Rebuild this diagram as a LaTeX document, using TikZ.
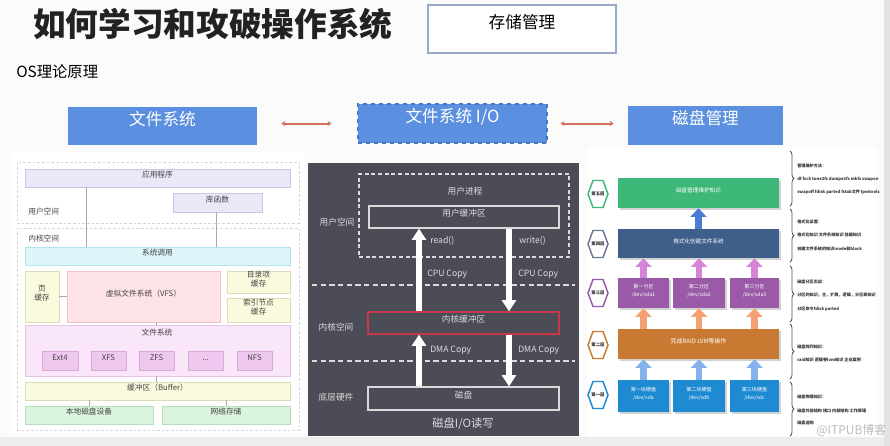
\documentclass[tikz,border=0pt]{standalone}
\usepackage{fontspec}
\setmainfont{Noto Sans CJK SC}
\usetikzlibrary{fit,arrows.meta,decorations.pathreplacing,shadows}
\definecolor{pagebg}{HTML}{FBFBFB}
\definecolor{edgegray}{HTML}{E3E3E3}
\definecolor{bottomgray}{HTML}{EDEDED}
\definecolor{titlecol}{HTML}{222222}
\definecolor{storeborder}{HTML}{98A8C8}
\definecolor{bluebtn}{HTML}{5B8FDF}
\definecolor{bluebtnb}{HTML}{4676C4}
\definecolor{redline}{HTML}{D6705E}
\definecolor{lptext}{HTML}{444444}
\definecolor{dashgray}{HTML}{D6D6D6}
\definecolor{lavF}{HTML}{E8E8F8}
\definecolor{lavB}{HTML}{C8C8E6}
\definecolor{cyanF}{HTML}{DDF6FA}
\definecolor{cyanB}{HTML}{B4E2EA}
\definecolor{yelF}{HTML}{FAFADF}
\definecolor{yelB}{HTML}{DCDCB6}
\definecolor{pinkF}{HTML}{FDE2E8}
\definecolor{pinkB}{HTML}{F0C2CC}
\definecolor{mauveF}{HTML}{F9E6F9}
\definecolor{mauveB}{HTML}{E6C6E6}
\definecolor{fsF}{HTML}{EEC8EE}
\definecolor{fsB}{HTML}{D8AAD8}
\definecolor{greenF}{HTML}{DAF4DE}
\definecolor{greenB}{HTML}{B6DEBE}
\definecolor{linkgray}{HTML}{A8A8A8}
\definecolor{mdark}{HTML}{4B4C56}
\definecolor{mtext}{HTML}{DCDCDC}
\definecolor{kred}{HTML}{C83848}
\definecolor{lv5}{HTML}{3DB878}
\definecolor{lv4}{HTML}{3E5F8A}
\definecolor{lv4h}{HTML}{6A7894}
\definecolor{lv3}{HTML}{9A5AA8}
\definecolor{lv2}{HTML}{C97A32}
\definecolor{lv1}{HTML}{1E8AD2}
\definecolor{arrblue}{HTML}{4A7CD4}
\definecolor{arrpink}{HTML}{D684D6}
\definecolor{arrorange}{HTML}{F2A074}
\definecolor{arrlblue}{HTML}{84B2EA}
\definecolor{bracecol}{HTML}{555555}
\definecolor{notecol}{HTML}{333333}
\definecolor{wmark}{HTML}{BDBDBD}
\begin{document}
\begin{tikzpicture}[x=0.75pt,y=-0.75pt,
  lpbox/.style={draw, inner sep=0pt, outer sep=0pt, align=center, text=lptext, line width=0.45pt, font=\fontsize{5.8}{7}\selectfont},
  lplabel/.style={text=lptext, font=\fontsize{5.8}{7}\selectfont, inner sep=0pt},
  lplink/.style={draw=linkgray, line width=0.5pt},
  dashreg/.style={draw=dashgray, dash pattern=on 2pt off 1.5pt, line width=0.5pt, inner sep=0pt},
  bluebox/.style={fill=bluebtn, inner sep=0pt, text=white, font=\fontsize{12.5}{14}\selectfont},
  redlink/.style={draw=redline, line width=1.5pt, {Stealth[length=3pt,width=4pt]}-{Stealth[length=3pt,width=4pt]}},
  mlabel/.style={text=mtext, font=\fontsize{6.5}{8}\selectfont, inner sep=0pt},
  mbox/.style={draw=white!85!black, line width=0.9pt, inner sep=0pt, text=mtext, font=\fontsize{6.5}{8}\selectfont},
  bigarrow/.style={draw=white, line width=3.8pt, -{Triangle[width=10.5pt,length=8.5pt]}},
  mdash/.style={draw=mtext, dash pattern=on 4pt off 2.5pt, line width=0.9pt},
  lvbox/.style={fill=#1, inner sep=0pt, text=white, align=center, font=\fontsize{4.2}{6}\selectfont, drop shadow={shadow xshift=1.2pt, shadow yshift=-1.2pt, opacity=0.35}},
  fat/.style={draw=#1, line width=5pt, -{Triangle[width=12pt,length=6.5pt]}},
  hexline/.style={draw=#1, line width=1.1pt, line join=miter},
  hextext/.style={text=notecol, font=\fontsize{3.3}{4}\selectfont\bfseries, inner sep=0pt},
  bracestyle/.style={draw=bracecol, line width=0.6pt, decorate, decoration={brace, amplitude=3pt}},
  note/.style={anchor=west, text=notecol, inner sep=0pt, font=\fontsize{3.1}{4}\selectfont\bfseries},
]
\fill[pagebg] (0,0) rectangle (890,446);
\fill[bottomgray] (0,437) rectangle (890,446);
\fill[edgegray] (884,0) rectangle (890,446);
\useasboundingbox (0,0) rectangle (890,446);

% header
\node[anchor=west, text=titlecol, font=\fontsize{24.5}{27}\selectfont\bfseries, inner sep=0pt] (title) at (33,24) {如何学习和攻破操作系统};
\node[draw=storeborder, line width=0.9pt, fill=white, inner sep=0pt, fit={(428,5)(616,53)}, font=\fontsize{12.5}{14}\selectfont] (store) {存储管理};
\node[anchor=west, inner sep=0pt, font=\fontsize{11.5}{13}\selectfont] (os) at (16,72) {OS理论原理};

\node[bluebox, fit={(68,107)(257,145)}] (fs) {文件系统};
\node[bluebox, draw=bluebtnb, dashed, line width=0.8pt, fit={(358,104)(547,143)}] (fsio) {文件系统 I/O};
\node[bluebox, fit={(628,106)(783,145)}] (dm) {磁盘管理};
\draw[redlink, shorten <=18pt, shorten >=19.5pt] (fs.east |- fsio.west) -- (fsio.west);
\draw[redlink, shorten <=9.75pt, shorten >=10.5pt] (fsio.east) -- (dm.west |- fsio.east);

% panels
\node[fill=white, inner sep=0pt, fit={(12,152)(305,433)}] (lpanel) {};
\node[fill=mdark, inner sep=0pt, fit={(308,163)(579,436)}] (mpanel) {};
\node[fill=white, inner sep=0pt, fit={(587,148)(876,436)}] (rpanel) {};

% ---------- left panel
\node[dashreg, fit={(17,162)(299,223)}] (uspace) {};
\node[dashreg, fit={(17,228)(299,430)}] (kspace) {};
\node[lpbox, fill=lavF, draw=lavB, fit={(25,169)(290,187)}] (app) {应用程序};
\node[lpbox, fill=lavF, draw=lavB, fit={(173,193)(262,212)}] (lib) {库函数};
\node[lplabel, anchor=west] (ulab) at (28,212) {用户空间};
\node[lplabel, anchor=west] (klab) at (28,239) {内核空间};
\node[lpbox, fill=cyanF, draw=cyanB, fit={(25,247)(290,265)}] (sys) {系统调用};
\node[lpbox, fill=yelF, draw=yelB, fit={(25,271)(59,322)}] (page) {页\\缓存};
\node[lpbox, fill=pinkF, draw=pinkB, fit={(67,271)(220,322)}] (vfs) {虚拟文件系统（VFS）};
\node[lpbox, fill=yelF, draw=yelB, fit={(227,271)(290,293)}] (dentry) {目录项\\缓存};
\node[lpbox, fill=yelF, draw=yelB, fit={(227,298)(290,322)}] (inode) {索引节点\\缓存};
\node[lpbox, fill=mauveF, draw=mauveB, fit={(25,325)(290,376)}] (fsys) {};
\node[lplabel] (fsyslab) at (157,333) {文件系统};
\node[lpbox, fill=fsF, draw=fsB, fit={(42,351)(78,370)}] (ext4) {Ext4};
\node[lpbox, fill=fsF, draw=fsB, fit={(91,351)(126,370)}] (xfs) {XFS};
\node[lpbox, fill=fsF, draw=fsB, fit={(139,351)(174,370)}] (zfs) {ZFS};
\node[lpbox, fill=fsF, draw=fsB, fit={(188,351)(223,370)}] (etc) {...};
\node[lpbox, fill=fsF, draw=fsB, fit={(237,351)(272,370)}] (nfs) {NFS};
\node[lpbox, fill=yelF, draw=yelB, fit={(25,382)(290,400)}] (buf) {缓冲区（Buffer）};
\node[lpbox, fill=greenF, draw=greenB, fit={(25,406)(153,424)}] (local) {本地磁盘设备};
\node[lpbox, fill=greenF, draw=greenB, fit={(162,406)(290,424)}] (net) {网络存储};
\coordinate (xa) at (86,0);
\coordinate (xb) at (216,0);
\coordinate (xc) at (156,0);
\draw[lplink] (app.south -| xa) -- (sys.north -| xa);
\draw[lplink] (lib.south -| xb) -- (sys.north -| xb);
\draw[lplink] (page.east) -- (vfs.west);
\draw[lplink] (vfs.south -| xc) -- (fsys.north -| xc);
\draw[lplink] (fsys.south -| xc) -- (buf.north -| xc);
\draw[lplink] (buf.south -| local.north) -- (local.north);
\draw[lplink] (buf.south -| net.north) -- (net.north);

% ---------- middle panel
\node[draw=mtext, dash pattern=on 3pt off 2pt, line width=0.9pt, inner sep=0pt, fit={(359,174)(569,257)}] (uproc) {};
\node[mlabel] (uproclab) at (465,191) {用户进程};
\node[mbox, fit={(369,206)(559,228)}] (ubuf) {用户缓冲区};
\node[mbox, draw=kred, fit={(368,312)(559,334)}] (kbuf) {内核缓冲区};
\node[mbox, fit={(368,387)(559,410)}] (disk) {磁盘};
\node[mlabel] (mu) at (337,222) {用户空间};
\node[mlabel] (mk) at (336,327) {内核空间};
\node[mlabel] (mh) at (336,397) {底层硬件};
\node[mlabel, anchor=west] (rd) at (430,241) {read()};
\node[mlabel, anchor=west] (wr) at (519,241) {write()};
\node[mlabel, anchor=west] (cpu1) at (427,274) {CPU Copy};
\node[mlabel, anchor=west] (cpu2) at (518,274) {CPU Copy};
\node[mlabel, anchor=west] (dma1) at (430,350) {DMA Copy};
\node[mlabel, anchor=west] (dma2) at (518,350) {DMA Copy};
\draw[mdash] (312,285) -- (575,285);
\draw[mdash] (312,361) -- (575,361);
\node[text=mtext, inner sep=0pt, font=\fontsize{8.5}{10}\selectfont] (mcap) at (463,424) {磁盘I/O读写};
\coordinate (ux) at (419,0);
\coordinate (dx) at (509,0);
\draw[bigarrow] (kbuf.north -| ux) -- (ubuf.south -| ux);
\draw[bigarrow] (disk.north -| ux) -- (kbuf.south -| ux);
\draw[bigarrow] (ubuf.south -| dx) -- (kbuf.north -| dx);
\draw[bigarrow] (kbuf.south -| dx) -- (disk.north -| dx);

% ---------- right panel
\node[lvbox=lv5, fit={(618,178)(779,208)}] (l5) {磁盘管理维护知识};
\node[lvbox=lv4, fit={(618,229)(779,258)}] (l4) {格式化创建文件系统};
\node[lvbox=lv3, fit={(618,278)(669,308)}, font=\fontsize{3.8}{6.5}\selectfont] (p1) {第一分区\\/dev/sda1};
\node[lvbox=lv3, fit={(673,278)(725,308)}, font=\fontsize{3.8}{6.5}\selectfont] (p2) {第二分区\\/dev/sda2};
\node[lvbox=lv3, fit={(730,278)(779,308)}, font=\fontsize{3.8}{6.5}\selectfont] (p3) {第三分区\\/dev/sda3};
\node[lvbox=lv2, fit={(618,329)(779,359)}, font=\fontsize{4.5}{6}\selectfont] (l2) {完成RAID LVM等操作};
\node[lvbox=lv1, fit={(618,380)(669,412)}, font=\fontsize{3.8}{6.5}\selectfont] (d1) {第一块硬盘\\/dev/sda};
\node[lvbox=lv1, fit={(673,380)(725,412)}, font=\fontsize{3.8}{6.5}\selectfont] (d2) {第二块硬盘\\/dev/sdb};
\node[lvbox=lv1, fit={(730,380)(779,412)}, font=\fontsize{3.8}{6.5}\selectfont] (d3) {第三块硬盘\\/dev/sdc};

\draw[fat=arrblue] (l4.north) -- (l5.south);
\foreach \bx in {p1,p2,p3} {
  \draw[fat=arrpink] (\bx.north) -- (\bx.north |- l4.south);
  \draw[fat=arrorange] (\bx.south |- l2.north) -- (\bx.south);
}
\draw[fat=arrlblue] (d1.north) -- (d1.north |- l2.south);
\draw[fat=arrlblue] (d2.north) -- (d2.north |- l2.south);
\draw[fat=arrlblue] (d3.north) -- (d3.north |- l2.south);

\foreach \nm/\yy/\hc/\lbl in {h5/194/lv5/第五层, h4/244/lv4h/第四层, h3/293/lv3/第三层, h2/345/lv2/第二层, h1/395/lv1/第一层} {
  \node[hextext] (\nm) at (598,\yy) {\lbl};
  \draw[hexline=\hc] (\nm.center) ++(-10,0) -- ++(5,-13.5) -- ++(10,0) -- ++(5,13.5) -- ++(-5,13.5) -- ++(-10,0) -- cycle;
}

\draw[bracestyle] (790,151) -- (790,206);
\draw[bracestyle] (790,209) -- (790,262);
\draw[bracestyle] (790,266) -- (790,322);
\draw[bracestyle] (790,324) -- (790,379);
\draw[bracestyle] (790,382) -- (790,436);

\node[note] (n1a) at (797,166) {管理维护方法：};
\node[note] (n1b) at (797,179) {df fsck tune2fs dumpe2fs mkfs swapon};
\node[note] (n1c) at (797,192) {swapoff fdisk parted fstab文件 lpmtools};
\node[note] (n2a) at (797,222) {格式化设置：};
\node[note] (n2b) at (797,235) {格式化知识 文件系统知识 挂载知识};
\node[note] (n2c) at (797,249) {创建文件系统的知识inode和block};
\node[note] (n3a) at (797,282) {磁盘分区实战：};
\node[note] (n3b) at (797,295) {分区的知识，主，扩展，逻辑，分区表知识};
\node[note] (n3c) at (797,309) {分区命令fdisk parted};
\node[note] (n4a) at (797,347) {磁盘阵列知识：};
\node[note] (n4b) at (797,360) {raid知识 逻辑卷lvm知识 企业案例};
\node[note] (n5a) at (797,397) {磁盘物理知识：};
\node[note] (n5b) at (797,411) {磁盘外部结构 接口 内部结构 工作原理};
\node[note] (n5c) at (797,423) {磁盘选购};

\node[anchor=west, text=wmark, inner sep=0pt, font=\fontsize{9}{10}\selectfont] (wm) at (816,430) {@ITPUB博客};
\end{tikzpicture}
\end{document}
